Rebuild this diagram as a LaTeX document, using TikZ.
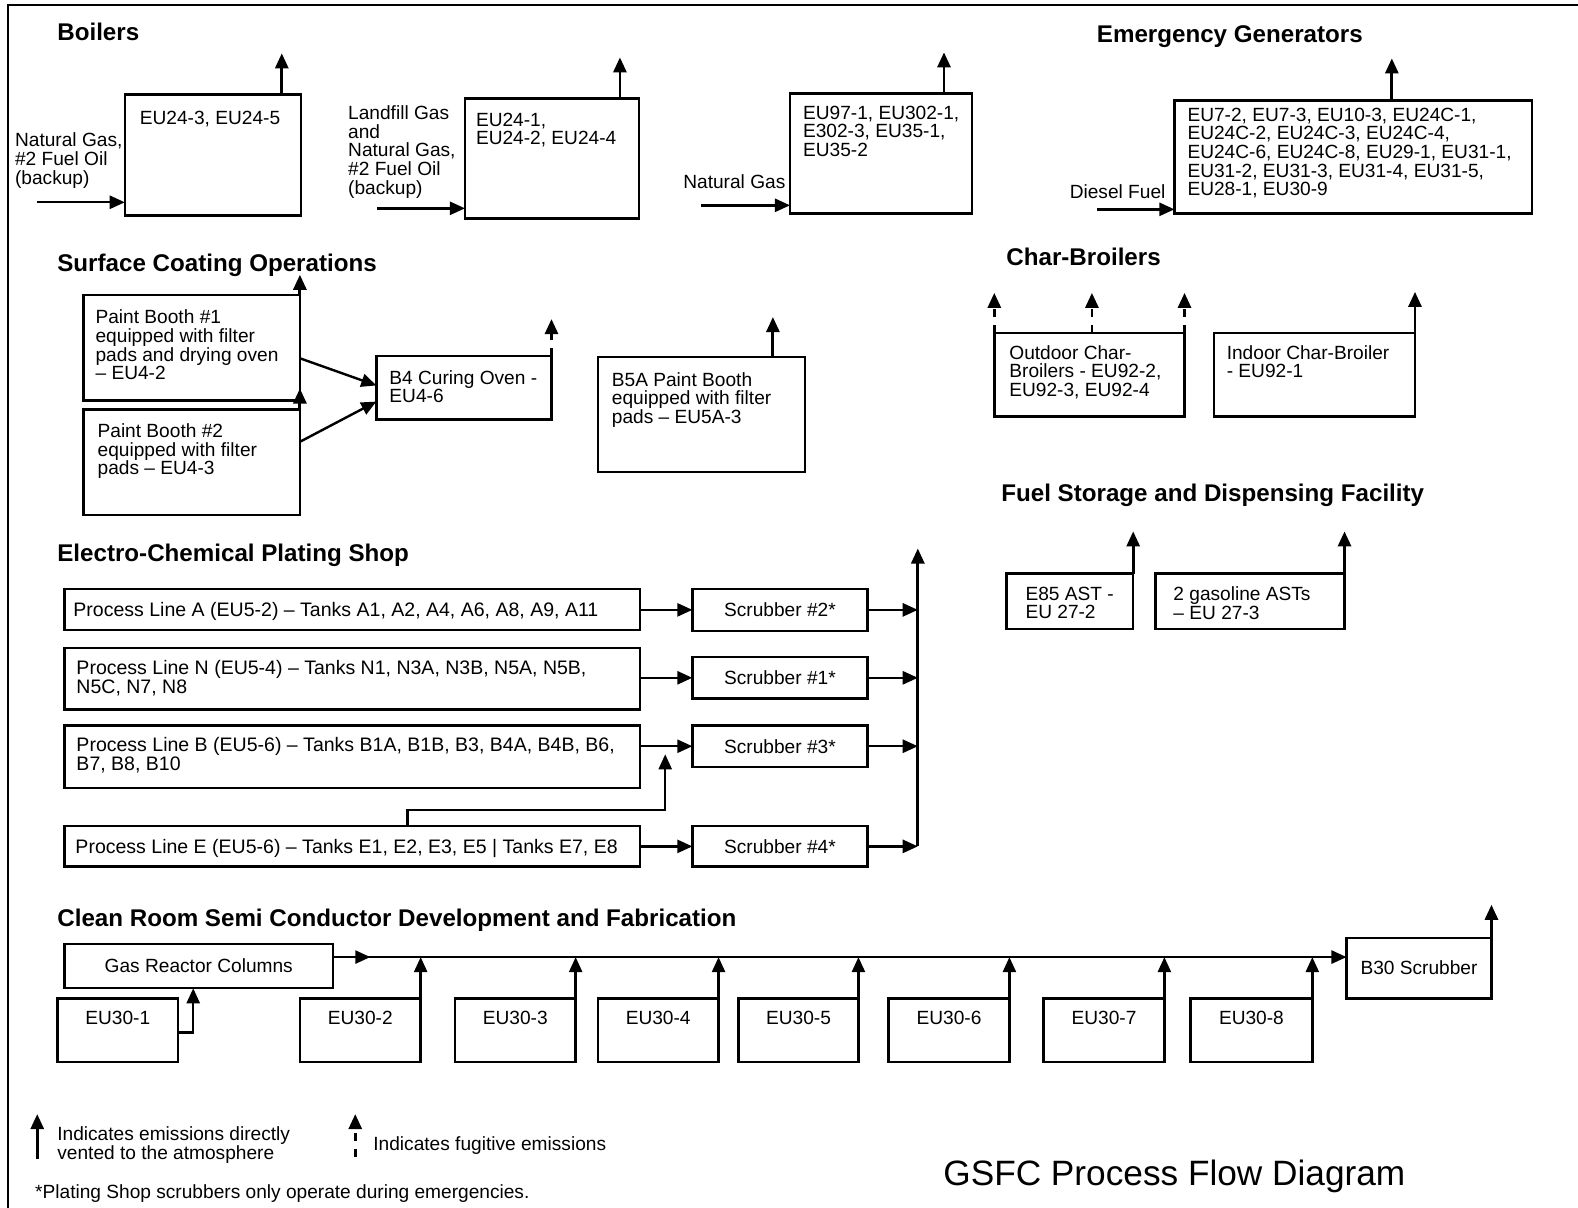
\documentclass[tikz,border=0pt]{standalone}
\usepackage{fontspec}
\setmainfont{Liberation Sans}
\usetikzlibrary{arrows.meta,calc,fit}
\begin{document}
\begin{tikzpicture}[x=0.5pt,y=-0.5pt,
  box/.style={draw, line width=1.2pt, inner sep=0pt, outer sep=0pt, rectangle},
  tx/.style={inner sep=0pt, outer sep=0pt, anchor=north west, align=left, font=\fontsize{9.5}{9.3}\selectfont},
  tp/.style={tx, font=\fontsize{9.7}{9.4}\selectfont},
  tb/.style={inner sep=0pt, outer sep=0pt, anchor=base west, font=\fontsize{9.5}{9.3}\selectfont},
  tc/.style={inner sep=0pt, outer sep=0pt, anchor=center, font=\fontsize{9.5}{9.3}\selectfont},
  hd/.style={inner sep=0pt, outer sep=0pt, anchor=base west, font=\bfseries\fontsize{12}{14}\selectfont},
  flow/.style={line width=1.2pt, -{Triangle[length=7.5pt,width=6.5pt]}},
  vent/.style={line width=1.4pt, -{Triangle[length=7.5pt,width=6.5pt]}},
  fug/.style={vent, dash pattern=on 4pt off 4pt}]
\useasboundingbox (0,0) rectangle (1568,1200);
\draw[line width=1.1pt] (1568,5) -- (8,5) -- (8,1200);

% ---------------- Boilers ----------------
\node[hd] (hboil) at (57,40) {Boilers};
\node[box, fit={(124,94) (299,214)}] (b1) {};
\node[tx] (tb1) at (139,110) {EU24-3, EU24-5};
\node[tx] (lb1) at (15,132) {Natural Gas,\\\#2 Fuel Oil\\(backup)};
\coordinate (in1) at (37,201);
\draw[flow] (in1) -- (in1 -| b1.west);
\draw[vent] ($(b1.north west)+(156,0)$) -- ++(0,-41);

\node[box, fit={(462,98) (635,217)}] (b2) {};
\node[tx] (tb2) at (473,112) {EU24-1,\\EU24-2, EU24-4};
\node[tx] (lb2) at (346,105) {Landfill Gas\\and\\Natural Gas,\\\#2 Fuel Oil\\(backup)};
\coordinate (in2) at (375,207);
\draw[flow] (in2) -- (in2 -| b2.west);
\draw[vent] ($(b2.north west)+(154,0)$) -- ++(0,-41);

\node[box, fit={(785,93) (966,212)}] (b3) {};
\node[tx] (tb3) at (798,105) {EU97-1, EU302-1,\\E302-3, EU35-1,\\EU35-2};
\node[tb] (lb3) at (679,187) {Natural Gas};
\coordinate (in3) at (697,204);
\draw[flow] (in3) -- (in3 -| b3.west);
\draw[vent] ($(b3.north west)+(153,0)$) -- ++(0,-41);

% ---------------- Emergency Generators ----------------
\node[hd] (hgen) at (1090,42) {Emergency Generators};
\node[box, fit={(1167,100) (1522,212)}] (eg) {};
\node[tx] (teg) at (1180,107) {EU7-2, EU7-3, EU10-3, EU24C-1,\\EU24C-2, EU24C-3, EU24C-4,\\EU24C-6, EU24C-8, EU29-1, EU31-1,\\EU31-2, EU31-3, EU31-4, EU31-5,\\EU28-1, EU30-9};
\node[tb] (leg) at (1063,197) {Diesel Fuel};
\coordinate (in4) at (1090,208);
\draw[flow] (in4) -- (in4 -| eg.west);
\draw[vent] ($(eg.north west)+(216,0)$) -- ++(0,-42);

% ---------------- Surface Coating ----------------
\node[hd] (hsur) at (57,270) {Surface Coating Operations};
\node[box, fit={(83,293) (298,398)}] (pb1) {};
\node[tx] (tpb1) at (95,308) {Paint Booth \#1\\equipped with filter\\pads and drying oven\\– EU4-2};
\node[box, fit={(83,407) (298,512)}] (pb2) {};
\node[tx] (tpb2) at (97,421) {Paint Booth \#2\\equipped with filter\\pads – EU4-3};
\draw[vent] (pb1.north east) -- ++(0,-20);
\draw[vent] (pb2.north east) -- ++(0,-21);
\node[box, fit={(374,354) (548,417)}] (b4) {};
\node[tx] (tb4) at (387,368) {B4 Curing Oven -\\EU4-6};
\draw[flow] ($(pb1.north east)+(0,63)$) -- ($(b4.north west)+(0,29)$);
\draw[flow] ($(pb2.north east)+(0,32)$) -- ($(b4.north west)+(0,45)$);
\draw[fug] (b4.north east) -- ++(0,-37);
\node[box, fit={(594,355) (800,469)}] (b5) {};
\node[tx] (tb5) at (608,370) {B5A Paint Booth\\equipped with filter\\pads – EU5A-3};
\draw[vent] ($(b5.north west)+(174,0)$) -- ++(0,-40);

% ---------------- Char-Broilers ----------------
\node[hd] (hchar) at (1000,264) {Char-Broilers};
\node[box, fit={(988,331) (1177,414)}] (ocb) {};
\node[tx] (tocb) at (1003,343) {Outdoor Char-\\Broilers - EU92-2,\\EU92-3, EU92-4};
\draw[fug] (ocb.north west) -- ++(0,-40);
\draw[fug] ($(ocb.north west)+(97,0)$) -- ++(0,-40);
\draw[fug] (ocb.north east) -- ++(0,-40);
\node[box, fit={(1206,331) (1406,414)}] (icb) {};
\node[tx] (ticb) at (1219,343) {Indoor Char-Broiler\\- EU92-1};
\draw[vent] (icb.north east) -- ++(0,-41);

% ---------------- Fuel Storage ----------------
\node[hd] (hfuel) at (995,498) {Fuel Storage and Dispensing Facility};
\node[box, fit={(1000,570) (1126,625)}] (e85) {};
\node[tx] (te85) at (1019,583) {E85 AST -\\EU 27-2};
\node[box, fit={(1148,570) (1336,625)}] (gas) {};
\node[tx] (tgas) at (1166,583) {2 gasoline ASTs\\– EU 27-3};
\draw[vent] (e85.north east) -- ++(0,-42);
\draw[vent] (gas.north east) -- ++(0,-42);

% ---------------- Plating Shop ----------------
\node[hd] (hplat) at (57,558) {Electro-Chemical Plating Shop};
\node[box, fit={(64,585) (636,626)}] (pla) {};
\node[tp] (tpla) at (73,599) {Process Line A (EU5-2) – Tanks A1, A2, A4, A6, A8, A9, A11};
\node[box, fit={(64,644) (636,705)}] (pln) {};
\node[tp] (tpln) at (76,656) {Process Line N (EU5-4) – Tanks N1, N3A, N3B, N5A, N5B,\\N5C, N7, N8};
\node[box, fit={(64,721) (636,783)}] (plb) {};
\node[tp] (tplb) at (76,733) {Process Line B (EU5-6) – Tanks B1A, B1B, B3, B4A, B4B, B6,\\B7, B8, B10};
\node[box, fit={(64,821) (636,861)}] (ple) {};
\node[tp] (tple) at (75,834) {Process Line E (EU5-6) – Tanks E1, E2, E3, E5 | Tanks E7, E8};
\node[box, fit={(688,585) (862,627)}] (s2) {};
\node[tc] (ts2) at (s2.center) {Scrubber \#2*};
\node[box, fit={(688,653) (862,694)}] (s1) {};
\node[tc] (ts1) at (s1.center) {Scrubber \#1*};
\node[box, fit={(688,721) (862,762)}] (s3) {};
\node[tc] (ts3) at (s3.center) {Scrubber \#3*};
\node[box, fit={(688,821) (862,861)}] (s4) {};
\node[tc] (ts4) at (s4.center) {Scrubber \#4*};
\draw[flow] (s2.west -| pla.east) -- (s2.west);
\draw[flow] (s1.west -| pln.east) -- (s1.west);
\draw[flow] (s3.west -| plb.east) -- (s3.west);
\draw[flow] (s4.west -| ple.east) -- (s4.west);
\draw[flow] ($(ple.north west)+(341,0)$) -- ++(0,-16) -| ($(s3.west)+(-27,8)$);
\coordinate (coltop) at (912,545);
\draw[vent] (s4.east -| coltop) -- (coltop);
\draw[flow] (s2.east) -- (s2.east -| coltop);
\draw[flow] (s1.east) -- (s1.east -| coltop);
\draw[flow] (s3.east) -- (s3.east -| coltop);
\draw[flow] (s4.east) -- (s4.east -| coltop);

% ---------------- Clean Room ----------------
\node[hd] (hclean) at (57,921) {Clean Room Semi Conductor Development and Fabrication};
\node[box, fit={(64,938) (331,982)}] (grc) {};
\node[tc] (tgrc) at (grc.center) {Gas Reactor Columns};
\node[box, fit={(1338,932) (1482,992)}] (b30) {};
\node[tc] (tb30) at (b30.center) {B30 Scrubber};
\coordinate (ms) at ($(grc.north east)+(0,13)$);
\draw[flow] (ms) -- (ms -| b30.west);
\draw[flow] (ms) -- ++(37,0);
\draw[vent] (b30.north east) -- ++(0,-33);

\node[box, fit={(57,992) (177,1055)}] (e1) {};
\node[tc] (te1) at ($(e1.north)+(0,19)$) {EU30-1};
\draw[flow] ($(e1.north east)+(0,34)$) -| ($(grc.south west)+(128,0)$);
\foreach \n/\xa/\xb in {2/298/418, 3/452/572, 4/594/714, 5/734/853, 6/883/1003, 7/1037/1157, 8/1183/1304}{
  \node[box, fit={(\xa,992) (\xb,1055)}] (e\n) {};
  \node[tc] (te\n) at ($(e\n.north)+(0,19)$) {EU30-\n};
  \draw[flow] (e\n.north east) -- (e\n.north east |- ms);
}

% ---------------- Legend ----------------
\coordinate (lg1) at (37,1152);
\draw[vent] (lg1) -- ++(0,-45);
\node[tx, font=\fontsize{9.5}{9.8}\selectfont] (tlg1) at (57,1119) {Indicates emissions directly\\vented to the atmosphere};
\coordinate (lg2) at (353,1150);
\draw[fug] (lg2) -- ++(0,-43);
\node[tb] (tlg2) at (371,1143) {Indicates fugitive emissions};
\node[tb] (tfoot) at (35,1191) {*Plating Shop scrubbers only operate during emergencies.};
\node[inner sep=0pt, anchor=base west, font=\fontsize{17.5}{20}\selectfont] (title) at (937,1178) {GSFC Process Flow Diagram};
\end{tikzpicture}
\end{document}
